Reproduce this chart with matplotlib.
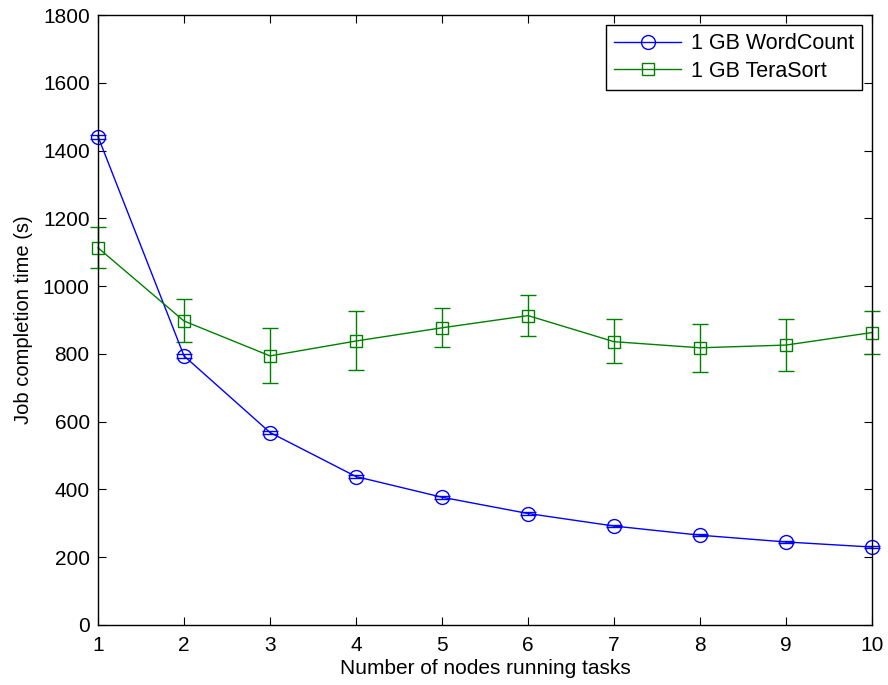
import numpy as np
import matplotlib
matplotlib.use("Agg")
import matplotlib.pyplot as plt

plt.rcParams['font.family'] = ['Liberation Sans', 'DejaVu Sans']

nodes = [1, 2, 3, 4, 5, 6, 7, 8, 9, 10]

# 1 GB WordCount
wc_time = [1441, 794, 568, 438, 377, 329, 292, 265, 245, 230]
wc_err = [6, 5, 5, 4, 4, 4, 3, 3, 3, 3]

# 1 GB TeraSort
ts_time = [1113, 897, 794, 838, 877, 913, 836, 818, 826, 863]
ts_err_low = [59, 63, 81, 86, 56, 60, 63, 70, 76, 64]
ts_err_high = [60, 64, 83, 88, 57, 61, 66, 71, 76, 65]

fig = plt.figure(figsize=(8.88, 6.85), dpi=100)
ax = fig.add_axes([0.1104, 0.0876, 0.8716, 0.8905])

wc = ax.errorbar(nodes, wc_time, yerr=wc_err, color=(0, 0, 1), marker='o',
                 markersize=10, markerfacecolor='none', markeredgewidth=1,
                 lw=1, capsize=6, elinewidth=1, clip_on=False)
ts = ax.errorbar(nodes, ts_time, yerr=[ts_err_low, ts_err_high], color=(0, 0.5, 0),
                 marker='s', markersize=8, markerfacecolor='none', markeredgewidth=1,
                 lw=1, capsize=6, elinewidth=1, clip_on=False)

ax.set_xlim(1, 10)
ax.set_ylim(0, 1800)
ax.set_xticks(range(1, 11))
ax.set_yticks(range(0, 1801, 200))
ax.tick_params(direction='in', top=True, right=True, labelsize=15, length=6)
ax.tick_params(axis='x', pad=8)
ax.tick_params(axis='y', pad=6)
for s in ax.spines.values():
    s.set_linewidth(1)
ax.set_xlabel('Number of nodes running tasks', fontsize=15, labelpad=3)
ax.set_ylabel('Job completion time (s)', fontsize=14.5, labelpad=7)

leg = ax.legend(handles=[wc[0], ts[0]], labels=['1 GB WordCount', '1 GB TeraSort'],
                loc='upper right', fontsize=15.5, fancybox=False, framealpha=1,
                edgecolor='black', borderaxespad=0.45, handlelength=3.1,
                handletextpad=0.45, labelspacing=0.3, borderpad=0.4)
leg.get_frame().set_linewidth(1)

fig.savefig('out.png', dpi=100)
